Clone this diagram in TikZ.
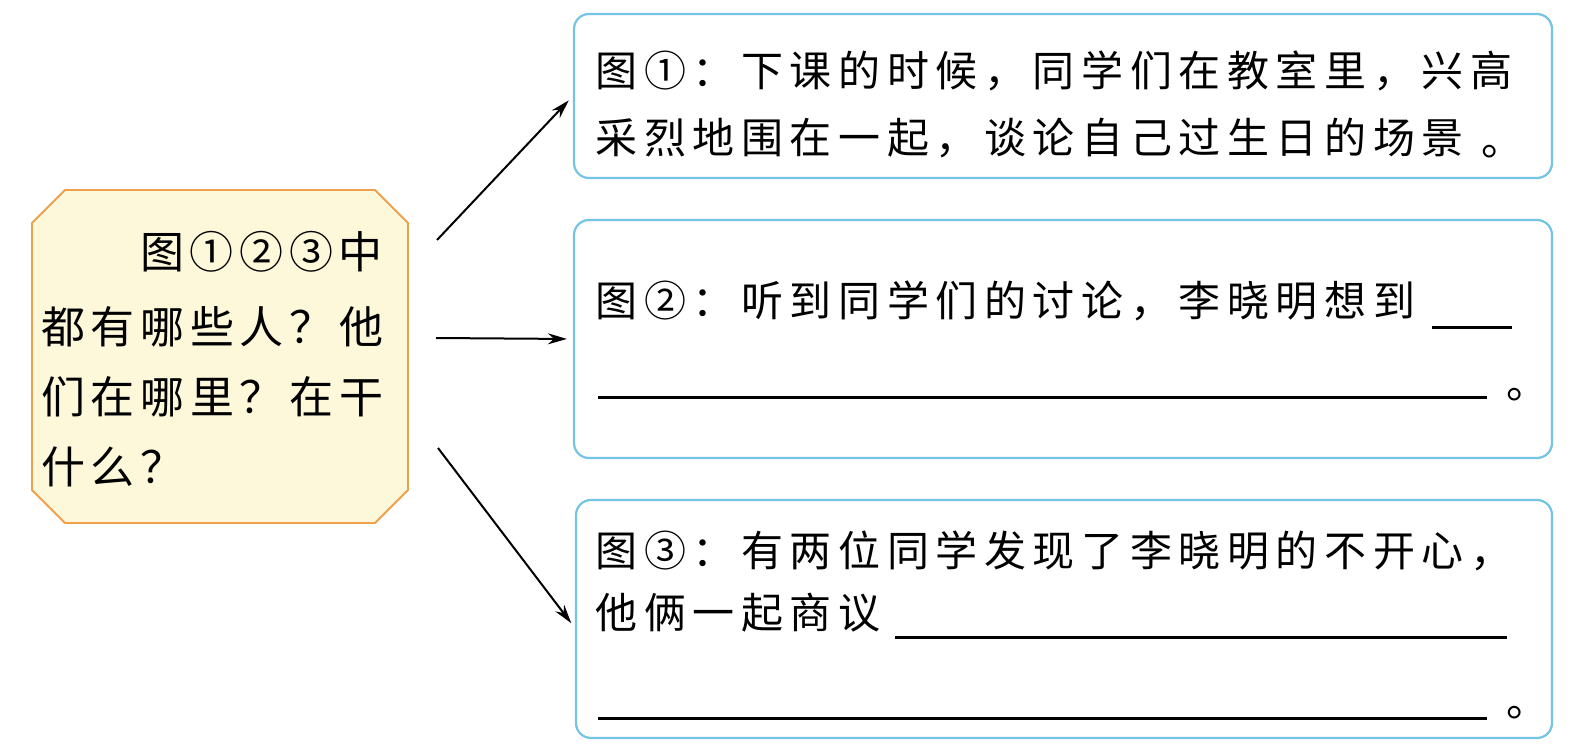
\documentclass[tikz,border=0pt]{standalone}
\usepackage{fontspec}
\setmainfont{Noto Sans CJK SC}
\usetikzlibrary{arrows.meta}
\definecolor{bblue}{HTML}{74C4E6}
\definecolor{lfill}{HTML}{FDF8DA}
\definecolor{lborder}{HTML}{EFA04C}
\makeatletter
\newcommand\spaced[2]{\@tfor\tk:=#2\do{\makebox[#1][c]{\tk}}}
\makeatother
\begin{document}
\begin{tikzpicture}[x=1pt,y=-1pt,
  box/.style={draw=bblue,line width=2.2pt,rounded corners=15pt,inner sep=0pt,fill=white},
  lbox/.style={draw=lborder,fill=lfill,line width=1.8pt,line join=miter},
  txt/.style={anchor=base west,inner sep=0pt,font=\fontsize{42}{50}\selectfont},
  ltxt/.style={anchor=base west,inner sep=0pt,font=\fontsize{44}{52}\selectfont},
  blank/.style={line width=3pt},
  arr/.style={line width=2pt,-{Stealth[length=19pt,width=11pt]},shorten >=6pt}]
\useasboundingbox (0,0) rectangle (1575,752);
% left box (octagon)
\path[lbox] (65,190) -- (375,190) -- (408,223) -- (408,490) -- (375,523)
  -- (65,523) -- (32,490) -- (32,223) -- cycle;
\coordinate (L) at (220,356.5);
\node[ltxt] (l1) at (137,268) {\spaced{49.7pt}{图①②③中}};
\node[ltxt] (l2) at (38,343) {\spaced{49.7pt}{都有哪些人？他}};
\node[ltxt] (l3) at (38,413) {\spaced{49.7pt}{们在哪里？在干}};
\node[ltxt] (l4) at (38,483) {\spaced{49.7pt}{什么？}};
% right boxes
\node[box,minimum width=978pt,minimum height=164pt] (b1) at (1063,96) {};
\node[box,minimum width=978pt,minimum height=238pt] (b2) at (1063,339) {};
\node[box,minimum width=976pt,minimum height=238pt] (b3) at (1064,619) {};
% box 1 text
\node[txt] (a1) at (592,87) {\spaced{48.6pt}{图①：下课的时候，同学们在教室里，兴高}};
\node[txt] (a2) at (592,153) {\spaced{48.6pt}{采烈地围在一起，谈论自己过生日的场景}};
\node[txt] (a3) at (1478,155) {\spaced{48pt}{。}};
% box 2 text
\node[txt] (c1) at (592,316) {\spaced{48.6pt}{图②：听到同学们的讨论，李晓明想到}};
\draw[blank] (1432,327) -- (1512,327);
\draw[blank] (598,397) -- (1487,397);
\node[txt] (c2) at (1503,398) {\spaced{48pt}{。}};
% box 3 text
\node[txt] (d1) at (592,566) {\spaced{48.6pt}{图③：有两位同学发现了李晓明的不开心，}};
\node[txt] (d2) at (592,628) {\spaced{48.6pt}{他俩一起商议}};
\draw[blank] (895,637) -- (1507,637);
\draw[blank] (598,718) -- (1487,718);
\node[txt] (d3) at (1503,716) {\spaced{48pt}{。}};
% arrows
\coordinate (s1) at (437,240);
\coordinate (s2) at (436,338);
\coordinate (s3) at (438,448);
\draw[arr] (s1) -- (b1.west);
\draw[arr] (s2) -- (b2.west);
\draw[arr] (s3) -- ([yshift=-9pt]b3.west);
\end{tikzpicture}
\end{document}
